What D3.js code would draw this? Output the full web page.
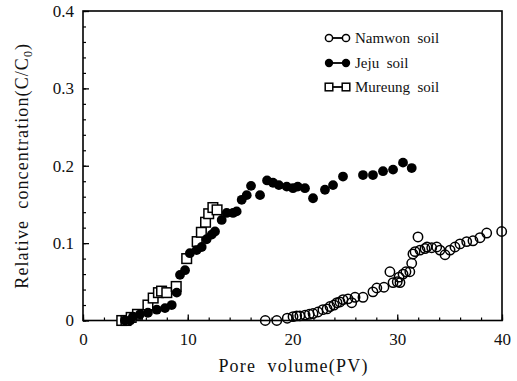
<!DOCTYPE html>
<html><head><meta charset="utf-8">
<script src="https://cdn.jsdelivr.net/npm/d3@7"></script>
<style>body{margin:0;background:#fff}svg{display:block}text{font-family:"Liberation Serif","Times New Roman",serif;fill:#111;white-space:pre}</style>
</head><body><svg id="c" width="517" height="381"></svg>
<script>
const namwonPV = [17.4,18.5,19.5,20.05,20.4,20.7,21.2,21.6,21.96,22.43,22.9,23.3,23.58,23.96,24.25,24.53,24.82,25.3,25.65,25.97,26.73,27.68,28.05,28.73,29.3,29.6,30.0,30.26,30.17,30.55,30.83,31.2,31.38,31.5,31.98,31.7,32.17,32.65,32.84,33.29,33.77,34.08,34.56,35.04,35.51,35.99,36.63,37.23,37.9,38.54,39.97];
const namwonC = [0,0,0.003,0.005,0.006,0.006,0.007,0.008,0.009,0.011,0.014,0.015,0.018,0.02,0.023,0.024,0.027,0.028,0.023,0.03,0.03,0.037,0.042,0.043,0.063,0.049,0.05,0.049,0.056,0.06,0.063,0.063,0.074,0.086,0.108,0.089,0.091,0.093,0.095,0.094,0.095,0.091,0.085,0.091,0.095,0.099,0.102,0.103,0.107,0.113,0.115];
const jejuPV = [4.0,4.5,4.77,5.44,6.2,7.04,7.83,8.47,8.95,9.26,9.74,10.2,10.85,11.33,11.8,12.29,12.6,13.24,13.72,14.32,14.67,15.15,15.63,16.04,16.9,17.57,18.14,18.7,19.45,20.05,20.5,21.19,21.96,23.1,23.87,24.82,26.73,27.68,28.64,29.6,30.55,31.38];
const jejuC = [0,0,0.005,0.008,0.01,0.014,0.016,0.02,0.036,0.059,0.065,0.087,0.091,0.095,0.105,0.111,0.115,0.13,0.139,0.139,0.141,0.156,0.162,0.174,0.162,0.181,0.178,0.175,0.173,0.171,0.173,0.171,0.158,0.169,0.175,0.186,0.188,0.188,0.193,0.195,0.204,0.197];
const mureungPV = [3.7,4.1,4.6,5.2,6.2,6.7,7.2,7.5,8.0,8.9,9.9,10.9,11.3,11.7,12.0,12.4,12.8];
const mureungC = [0,0,0.004,0.008,0.02,0.029,0.036,0.038,0.036,0.044,0.08,0.102,0.114,0.127,0.138,0.146,0.143];
const xTicks = [0,10,20,30,40];
const yTicks = [0,0.1,0.2,0.3,0.4];
const seriesNames = ["Namwon  soil","Jeju  soil","Mureung  soil"];

const svg = d3.select("#c");
const x = d3.scaleLinear().domain([0,40]).range([83,502]);
const y = d3.scaleLinear().domain([0,0.4]).range([320.5,11]);

// frame
svg.append("rect").attr("x",x(0)).attr("y",y(0.4)).attr("width",x(40)-x(0)).attr("height",y(0)-y(0.4))
  .attr("fill","none").attr("stroke","#000").attr("stroke-width",1.6);

// ticks (inside)
const gx = svg.append("g").attr("transform",`translate(0,${y(0)})`)
  .call(d3.axisBottom(x).tickValues(d3.range(0,41,2)).tickSize(-3).tickFormat(""));
gx.select(".domain").remove();
gx.selectAll("line").attr("stroke","#000").attr("stroke-width",1.2);
const gxM = svg.append("g").attr("transform",`translate(0,${y(0)})`)
  .call(d3.axisBottom(x).tickValues(xTicks).tickSize(-6).tickPadding(12).tickFormat(d3.format("d")));
gxM.select(".domain").remove();
gxM.selectAll("line").attr("stroke","#000").attr("stroke-width",1.3);
gxM.selectAll("text").attr("font-size",17).attr("font-family","Liberation Serif").attr("fill","#111");

const gy = svg.append("g").attr("transform",`translate(${x(0)},0)`)
  .call(d3.axisLeft(y).tickValues(d3.range(0,0.401,0.02)).tickSize(-3).tickFormat(""));
gy.select(".domain").remove();
gy.selectAll("line").attr("stroke","#000").attr("stroke-width",1.2);
const gyM = svg.append("g").attr("transform",`translate(${x(0)},0)`)
  .call(d3.axisLeft(y).tickValues(yTicks).tickSize(-6).tickPadding(9).tickFormat(d=>d===0?"0":d3.format(".1f")(d)));
gyM.select(".domain").remove();
gyM.selectAll("line").attr("stroke","#000").attr("stroke-width",1.3);
gyM.selectAll("text").attr("font-size",17).attr("font-family","Liberation Serif").attr("fill","#111");

// axis titles
svg.append("text").attr("x",(x(0)+x(40))/2+1).attr("y",372).attr("text-anchor","middle")
  .attr("font-size",18).attr("letter-spacing",1.2).text("Pore  volume(PV)");
const yt = svg.append("text").attr("transform",`translate(28,${(y(0)+y(0.4))/2}) rotate(-90)`)
  .attr("text-anchor","middle").attr("font-size",18).attr("letter-spacing",1.1);
yt.append("tspan").text("Relative  concentration(C/C");
yt.append("tspan").attr("font-size",12).attr("dy",4).text("0");
yt.append("tspan").attr("dy",-4).text(")");

// data
const mur = mureungPV.map((v,i)=>[v,mureungC[i]]);
const jej = jejuPV.map((v,i)=>[v,jejuC[i]]);
const nam = namwonPV.map((v,i)=>[v,namwonC[i]]);
const s = 9.6;
svg.append("g").selectAll("rect").data(mur).join("rect")
  .attr("x",d=>x(d[0])-s/2).attr("y",d=>y(d[1])-s/2).attr("width",s).attr("height",s)
  .attr("fill","#fff").attr("stroke","#000").attr("stroke-width",1.5);
svg.append("g").selectAll("circle").data(jej).join("circle")
  .attr("cx",d=>x(d[0])).attr("cy",d=>y(d[1])).attr("r",4.9).attr("fill","#000");
svg.append("g").selectAll("circle").data(nam).join("circle")
  .attr("cx",d=>x(d[0])).attr("cy",d=>y(d[1])).attr("r",4.7).attr("fill","none").attr("stroke","#000").attr("stroke-width",1.5);

// legend
const lg = svg.append("g");
const rows = [38,63,87];
const mx1 = 329, mx2 = 346;
seriesNames.forEach((n,i)=>{
  const yy = rows[i];
  lg.append("line").attr("x1",mx1).attr("x2",mx2).attr("y1",yy).attr("y2",yy).attr("stroke","#000").attr("stroke-width",1.8);
  [mx1,mx2].forEach(mx=>{
    if(i===0) lg.append("circle").attr("cx",mx).attr("cy",yy).attr("r",3.6).attr("fill","#fff").attr("stroke","#000").attr("stroke-width",1.5);
    if(i===1) lg.append("circle").attr("cx",mx).attr("cy",yy).attr("r",4.2).attr("fill","#000");
    if(i===2) lg.append("rect").attr("x",mx-3.8).attr("y",yy-3.8).attr("width",7.6).attr("height",7.6).attr("fill","#fff").attr("stroke","#000").attr("stroke-width",1.5);
  });
  lg.append("text").attr("x",355).attr("y",yy+5).attr("font-size",15).text(n);
});
</script></body></html>
